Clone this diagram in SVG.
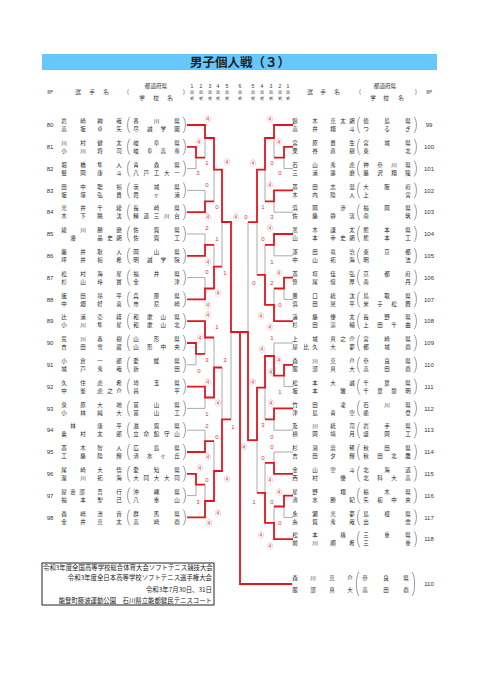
<svg xmlns="http://www.w3.org/2000/svg" width="480" height="679" viewBox="0 0 480 679">
<style>
text{font-family:"Noto Sans CJK JP","Noto Sans",sans-serif}
.n{font-size:5.5px;fill:#222;text-anchor:middle}
.no{font-family:"Liberation Sans",sans-serif;font-size:6px;fill:#333;text-anchor:middle}
.h{font-size:5.6px;fill:#333;text-anchor:middle}
.rd{font-family:"Liberation Sans",sans-serif;font-size:5px;fill:#333;text-anchor:middle}
.s{font-size:6px;fill:#e8303a;text-anchor:middle}
.sd{font-family:"Liberation Sans",sans-serif;font-size:6px;fill:#e8303a;text-anchor:middle}
.f{font-size:6.4px;fill:#222}
.r{fill:none;stroke:#e4141e;stroke-width:1.8}
.g{fill:none;stroke:#aaa;stroke-width:1}
.p{fill:none;stroke:#555;stroke-width:0.6}
</style>
<defs>
<path id="lp" class="p" d="M2,-8 C-1.2,-5 -1.2,5 2,8"/>
<path id="rp" class="p" d="M-2,-8 C1.2,-5 1.2,5 -2,8"/>
</defs>
<rect x="42" y="54" width="395" height="16" fill="#66c7fb"/>
<text x="240" y="67.3" text-anchor="middle" font-size="12.5" font-weight="bold" fill="#222">男子個人戦（３）</text>
<g id="header">
<text class="h" x="50" y="94">№</text>
<text class="h" x="78 92 106" y="94">選手名</text>
<text class="h" x="128" y="94">(</text>
<text class="h" x="156" y="88">都道府県</text>
<text class="h" x="142 156 170" y="99.5">学校名</text>
<text class="h" x="184" y="94">)</text>
<text class="rd" x="192" y="88">1</text><text class="rd" x="201" y="88">2</text><text class="rd" x="210" y="88">3</text><text class="rd" x="218" y="88">4</text><text class="rd" x="227" y="88">5</text><text class="rd" x="240" y="88">6</text><text class="rd" x="253" y="88">5</text><text class="rd" x="262" y="88">4</text><text class="rd" x="271" y="88">3</text><text class="rd" x="280" y="88">2</text><text class="rd" x="288" y="88">1</text>
<g font-size="3.6" fill="#444" text-anchor="middle">
<text x="192 201 210 218 227 240 253 262 271 280 288" y="94">回回回回回回回回回回回</text>
<text x="192 201 210 218 227 240 253 262 271 280 288" y="99.5">戦戦戦戦戦戦戦戦戦戦戦</text>
</g>
<text class="h" x="310 323 337" y="94">選手名</text>
<text class="h" x="360" y="94">(</text>
<text class="h" x="385" y="88">都道府県</text>
<text class="h" x="373 386 401" y="99.5">学校名</text>
<text class="h" x="416" y="94">)</text>
<text class="h" x="429" y="94">№</text>
</g>
<g id="connectors">
<path class="g" d="M187,168.6H196V157.7 M205,138V157.7 M187,190.4H205V201.3 M214,169.6V201.3 M187,234H205V244.9 M187,277.6H205V288.5 M214,244.9V266.7 M222,222V266.7 M187,364.8H196V353.9 M205,337.5V353.9 M187,408.4H205V397.5 M214,337.5V367.5 M187,430.2H205V441.1 M187,495.6H196V484.7 M205,484.7V501 M214,441.1V471 M222,367.5V419.3 M231,332V419.3"/>
<path class="g" d="M293,168.6H284V157.7 M274,138V157.7 M293,212.2H274V201.3 M265,169.6V201.3 M293,255.8H274V244.9 M293,299.4H284V288.5 M274,288.5V304.8 M265,244.9V274.9 M257,222.2V274.9 M293,343H274V356 M293,386.6H284V375.7 M293,430.2H274V419.3 M265,387.6V419.3 M293,452H274V462.9 M293,517.4H284V506.5 M274,506.5V522.8 M265,462.9V492.9 M257,440.2V492.9 M248,222.2V332"/>
<path class="r" d="M187,125H205V138H214V169.6H222V222H231V332H240 M187,146.8H196V157.7H205 M187,212.2H205V201.3H214 M187,255.8H205V244.9H214 M187,299.4H205V288.5H214V266.7H222 M187,321.2H205V337.5H214 M187,343H196V353.9H205 M187,386.6H205V397.5H214V367.5H222 M187,452H205V441.1H214 M187,473.8H196V484.7H205 M187,517.4H205V501H214V471H222V419.3H231"/>
<path class="r" d="M293,364.8H284V375.7H274V356H265V387.6H257V440.2H248V332H240V584H292 M293,125H274V138H265V169.6H257V222.2H248 M293,146.8H284V157.7H274 M293,190.4H274V201.3H265 M293,234H274V244.9H265 M293,277.6H284V288.5H274 M293,321.2H274V304.8H265V274.9H257 M293,408.4H274V419.3H265 M293,473.8H274V462.9H265 M293,495.6H284V506.5H274 M293,539.2H274V522.8H265V492.9H257"/>
</g>
<g id="scores">
<text class="s" x="208" y="121">④</text><text class="s" x="199" y="144">④</text><text class="sd" x="207" y="165">1</text><text class="sd" x="198" y="175">3</text><text class="s" x="227" y="164">④</text><text class="sd" x="207" y="187">0</text><text class="sd" x="217" y="209">0</text><text class="s" x="208" y="219">④</text><text class="sd" x="207" y="230">2</text><text class="sd" x="217" y="241">1</text><text class="s" x="208" y="264">④</text><text class="sd" x="225" y="275">1</text><text class="sd" x="207" y="274">0</text><text class="s" x="218" y="295">④</text><text class="s" x="208" y="307">④</text><text class="s" x="208" y="317">④</text><text class="sd" x="217" y="329">1</text><text class="s" x="200" y="340">④</text><text class="sd" x="207" y="362">3</text><text class="sd" x="225" y="362">3</text><text class="sd" x="199" y="373">0</text><text class="s" x="208" y="384">④</text><text class="s" x="218" y="405">④</text><text class="sd" x="207" y="416">1</text><text class="sd" x="207" y="428">2</text><text class="sd" x="233" y="429">1</text><text class="sd" x="217" y="439">0</text><text class="s" x="208" y="459">④</text><text class="s" x="200" y="470">④</text><text class="sd" x="207" y="482">0</text><text class="s" x="227" y="481">④</text><text class="sd" x="198" y="504">3</text><text class="s" x="218" y="515">④</text><text class="s" x="209" y="525">④</text><text class="s" x="236" y="219">④</text>
<text class="s" x="270" y="121">④</text><text class="s" x="279" y="144">④</text><text class="s" x="253" y="165">④</text><text class="sd" x="272" y="165">0</text><text class="sd" x="280" y="175">0</text><text class="s" x="270" y="187">④</text><text class="sd" x="263" y="209">1</text><text class="sd" x="272" y="219">3</text><text class="sd" x="246" y="219">0</text><text class="s" x="270" y="230">④</text><text class="sd" x="263" y="241">0</text><text class="sd" x="272" y="264">1</text><text class="s" x="279" y="275">④</text><text class="sd" x="272" y="285">2</text><text class="sd" x="254" y="285">0</text><text class="sd" x="280" y="307">0</text><text class="s" x="261" y="318">④</text><text class="s" x="270" y="329">④</text><text class="sd" x="272" y="340">1</text><text class="s" x="262" y="351">④</text><text class="s" x="279" y="362">④</text><text class="s" x="253" y="384">④</text><text class="s" x="271" y="374">④</text><text class="sd" x="280" y="394">1</text><text class="s" x="271" y="405">④</text><text class="sd" x="263" y="427">3</text><text class="sd" x="272" y="439">0</text><text class="sd" x="272" y="449">0</text><text class="s" x="244" y="449">④</text><text class="sd" x="263" y="460">0</text><text class="s" x="270" y="482">④</text><text class="s" x="279" y="494">④</text><text class="sd" x="272" y="504">0</text><text class="sd" x="254" y="504">1</text><text class="sd" x="280" y="525">0</text><text class="s" x="261" y="537">④</text><text class="s" x="270" y="548">④</text>
</g>
<g id="p80"><text class="no" x="50" y="127.2">80</text><text class="n" x="64 83 100 119" y="123.1">岩崎絢哉</text><text class="n" x="64 83 100 119" y="131.2">高坂卓矢</text><use href="#lp" x="128" y="125"/><text class="n" x="136 156.5 177" y="123.1">香川県</text><text class="n" x="136 149.7 163.3 177" y="131.2">尽誠学園</text><use href="#rp" x="185" y="125"/></g>
<g id="p81"><text class="no" x="50" y="149">81</text><text class="n" x="64 83 100 119" y="144.9">川村健太</text><text class="n" x="64 83 100 119" y="153">小川将司</text><use href="#lp" x="128" y="146.8"/><text class="n" x="136 156.5 177" y="144.9">岐阜県</text><text class="n" x="136 149.7 163.3 177" y="153">岐阜高専</text><use href="#rp" x="185" y="146.8"/></g>
<g id="p82"><text class="no" x="50" y="170.8">82</text><text class="n" x="64 83 100 119" y="166.7">堀橋隼人</text><text class="n" x="64 83 100 119" y="174.8">鷲岡康斗</text><use href="#lp" x="128" y="168.6"/><text class="n" x="136 156.5 177" y="166.7">青森県</text><text class="n" x="136 146.25 156.5 166.75 177" y="174.8">八戸工大一</text><use href="#rp" x="185" y="168.6"/></g>
<g id="p83"><text class="no" x="50" y="192.6">83</text><text class="n" x="64 83 100 119" y="188.5">田中聡裕</text><text class="n" x="64 83 100 119" y="196.6">坂塚弘貴</text><use href="#lp" x="128" y="190.4"/><text class="n" x="136 156.5 177" y="188.5">茨城県</text><text class="n" x="136 156.5 177" y="196.6">霞ヶ浦</text><use href="#rp" x="185" y="190.4"/></g>
<g id="p84"><text class="no" x="50" y="214.4">84</text><text class="n" x="64 83 100 119" y="210.3">光井千綾</text><text class="n" x="64 83 100 119" y="218.4">木下眺汰</text><use href="#lp" x="128" y="212.2"/><text class="n" x="136 156.5 177" y="210.3">長崎県</text><text class="n" x="136 146.25 156.5 166.75 177" y="218.4">精道三川台</text><use href="#rp" x="185" y="212.2"/></g>
<g id="p85"><text class="no" x="50" y="236.2">85</text><text class="n" x="64 83 100 119" y="232.1">綾川勝磨</text><text class="n" x="73 100 110 119" y="240.2">湊晶史朗</text><use href="#lp" x="128" y="234"/><text class="n" x="136 156.5 177" y="232.1">佐賀県</text><text class="n" x="136 156.5 177" y="240.2">佐賀工</text><use href="#rp" x="185" y="234"/></g>
<g id="p86"><text class="no" x="50" y="258">86</text><text class="n" x="64 83 100 119" y="253.9">藤井耿人</text><text class="n" x="64 83 100 119" y="262">坪井裕希</text><use href="#lp" x="128" y="255.8"/><text class="n" x="136 156.5 177" y="253.9">岡山県</text><text class="n" x="136 149.7 163.3 177" y="262">明誠学院</text><use href="#rp" x="185" y="255.8"/></g>
<g id="p87"><text class="no" x="50" y="279.8">87</text><text class="n" x="64 83 100 119" y="275.7">松村海星</text><text class="n" x="64 83 100 119" y="283.8">杉山玲實</text><use href="#lp" x="128" y="277.6"/><text class="n" x="136 156.5 177" y="275.7">福井県</text><text class="n" x="136 177" y="283.8">金津</text><use href="#rp" x="185" y="277.6"/></g>
<g id="p88"><text class="no" x="50" y="301.6">88</text><text class="n" x="64 83 100 119" y="297.5">飯田昂平</text><text class="n" x="64 83 100 119" y="305.6">中畑好喜</text><use href="#lp" x="128" y="299.4"/><text class="n" x="136 156.5 177" y="297.5">兵庫県</text><text class="n" x="136 156.5 177" y="305.6">市尼崎</text><use href="#rp" x="185" y="299.4"/></g>
<g id="p89"><text class="no" x="50" y="323.4">89</text><text class="n" x="64 83 100 119" y="319.3">辻浦壱経</text><text class="n" x="64 83 100 119" y="327.4">小川隼星</text><use href="#lp" x="128" y="321.2"/><text class="n" x="136 149.7 163.3 177" y="319.3">和歌山県</text><text class="n" x="136 149.7 163.3 177" y="327.4">和歌山北</text><use href="#rp" x="185" y="321.2"/></g>
<g id="p90"><text class="no" x="50" y="345.2">90</text><text class="n" x="64 83 100 119" y="341.1">荒川春樹</text><text class="n" x="64 83 100 119" y="349.2">吉田雪蔵</text><use href="#lp" x="128" y="343"/><text class="n" x="136 156.5 177" y="341.1">山形県</text><text class="n" x="136 149.7 163.3 177" y="349.2">山形中央</text><use href="#rp" x="185" y="343"/></g>
<g id="p91"><text class="no" x="50" y="367">91</text><text class="n" x="64 83 100 119" y="362.9">小倉一郎</text><text class="n" x="64 83 100 119" y="371">城戸秀哉</text><use href="#lp" x="128" y="364.8"/><text class="n" x="136 156.5 177" y="362.9">愛媛県</text><text class="n" x="136 177" y="371">新田</text><use href="#rp" x="185" y="364.8"/></g>
<g id="p92"><text class="no" x="50" y="388.8">92</text><text class="n" x="64 83 100 119" y="384.7">久住虎希</text><text class="n" x="64 83 100 110 119" y="392.8">中釜虎之介</text><use href="#lp" x="128" y="386.6"/><text class="n" x="136 156.5 177" y="384.7">埼玉県</text><text class="n" x="136 177" y="392.8">昌平</text><use href="#rp" x="185" y="386.6"/></g>
<g id="p93"><text class="no" x="50" y="410.6">93</text><text class="n" x="64 83 100 119" y="406.5">泉原大地</text><text class="n" x="64 83 100 119" y="414.6">小林純大</text><use href="#lp" x="128" y="408.4"/><text class="n" x="136 156.5 177" y="406.5">富山県</text><text class="n" x="136 156.5 177" y="414.6">富山工</text><use href="#rp" x="185" y="408.4"/></g>
<g id="p94"><text class="no" x="50" y="432.4">94</text><text class="n" x="73 100 119" y="428.3">林康平</text><text class="n" x="64 83 100 119" y="436.4">奥村太郎</text><use href="#lp" x="128" y="430.2"/><text class="n" x="136 156.5 177" y="428.3">滋賀県</text><text class="n" x="136 146.25 156.5 166.75 177" y="436.4">立命館守山</text><use href="#rp" x="185" y="430.2"/></g>
<g id="p95"><text class="no" x="50" y="454.2">95</text><text class="n" x="64 83 100 119" y="450.1">髙木智人</text><text class="n" x="64 83 100 119" y="458.2">工藤陸輝</text><use href="#lp" x="128" y="452"/><text class="n" x="136 156.5 177" y="450.1">広島県</text><text class="n" x="136 149.7 163.3 177" y="458.2">清水ヶ丘</text><use href="#rp" x="185" y="452"/></g>
<g id="p96"><text class="no" x="50" y="476">96</text><text class="n" x="64 83 100 119" y="471.9">尾崎大悟</text><text class="n" x="64 83 100 119" y="480">瀧川拓海</text><use href="#lp" x="128" y="473.8"/><text class="n" x="136 156.5 177" y="471.9">愛知県</text><text class="n" x="136 146.25 156.5 166.75 177" y="480">大同大大同</text><use href="#rp" x="185" y="473.8"/></g>
<g id="p97"><text class="no" x="50" y="497.8">97</text><text class="n" x="64 73 82 100 119" y="493.7">屋嘉部吾行</text><text class="n" x="64 83 100 119" y="501.8">福本聖己</text><use href="#lp" x="128" y="495.6"/><text class="n" x="136 156.5 177" y="493.7">沖縄県</text><text class="n" x="136 156.5 177" y="501.8">八重山</text><use href="#rp" x="185" y="495.6"/></g>
<g id="p98"><text class="no" x="50" y="519.6">98</text><text class="n" x="64 83 100 119" y="515.5">森崎洸音</text><text class="n" x="64 83 100 119" y="523.6">金井亮太</text><use href="#lp" x="128" y="517.4"/><text class="n" x="136 156.5 177" y="515.5">群馬県</text><text class="n" x="136 156.5 177" y="523.6">高崎商</text><use href="#rp" x="185" y="517.4"/></g>
<g id="p99"><text class="n" x="295 315 333 343 352" y="123.1">鈴木亮太朗</text><text class="n" x="295 315 333 352" y="131.2">高井翔斗</text><use href="#lp" x="358" y="125"/><text class="n" x="366 387 408" y="123.1">徳島県</text><text class="n" x="366 387 408" y="131.2">つるぎ</text><use href="#rp" x="416" y="125"/><text class="no" x="429" y="127.2">99</text></g>
<g id="p100"><text class="n" x="295 315 333 352" y="144.9">宮原貴生</text><text class="n" x="295 315 333 352" y="153">栗谷直樹</text><use href="#lp" x="358" y="146.8"/><text class="n" x="366 387 408" y="144.9">宮城県</text><text class="n" x="366 408" y="153">東北</text><use href="#rp" x="416" y="146.8"/><text class="no" x="429" y="149">100</text></g>
<g id="p101"><text class="n" x="295 315 333 352" y="166.7">石山秀虎</text><text class="n" x="295 315 333 352" y="174.8">三浦蓮磨</text><use href="#lp" x="358" y="168.6"/><text class="n" x="366 380 394 408" y="166.7">神奈川県</text><text class="n" x="366 380 394 408" y="174.8">藤沢翔陵</text><use href="#rp" x="416" y="168.6"/><text class="no" x="429" y="170.8">101</text></g>
<g id="p102"><text class="n" x="295 315 333 352" y="188.5">髙田志温</text><text class="n" x="295 315 333 352" y="196.6">木内陸人</text><use href="#lp" x="358" y="190.4"/><text class="n" x="366 387 408" y="188.5">大阪府</text><text class="n" x="366 408" y="196.6">上宮</text><use href="#rp" x="416" y="190.4"/><text class="no" x="429" y="192.6">102</text></g>
<g id="p103"><text class="n" x="295 315 343" y="210.3">浜岡渉</text><text class="n" x="295 315 333 352" y="218.4">佐藤静流</text><use href="#lp" x="358" y="212.2"/><text class="n" x="366 387 408" y="210.3">福岡県</text><text class="n" x="366 408" y="218.4">南筑</text><use href="#rp" x="416" y="212.2"/><text class="no" x="429" y="214.4">103</text></g>
<g id="p104"><text class="n" x="295 315 333 352" y="232.1">黒木謙太</text><text class="n" x="295 315 333 343 352" y="240.2">山本幸史朗</text><use href="#lp" x="358" y="234"/><text class="n" x="366 387 408" y="232.1">熊本県</text><text class="n" x="366 387 408" y="240.2">熊本工</text><use href="#rp" x="416" y="234"/><text class="no" x="429" y="236.2">104</text></g>
<g id="p105"><text class="n" x="295 315 333 352" y="253.9">澤田竜治</text><text class="n" x="295 315 333 352" y="262">中山拓海</text><use href="#lp" x="358" y="255.8"/><text class="n" x="366 387 408" y="253.9">東京都</text><text class="n" x="366 408" y="262">明法</text><use href="#rp" x="416" y="255.8"/><text class="no" x="429" y="258">105</text></g>
<g id="p106"><text class="n" x="295 315 333 352" y="275.7">髙垣佳弘</text><text class="n" x="295 315 333 352" y="283.8">笹尾偉厚</text><use href="#lp" x="358" y="277.6"/><text class="n" x="366 387 408" y="275.7">京都府</text><text class="n" x="366 408" y="283.8">南丹</text><use href="#rp" x="416" y="277.6"/><text class="no" x="429" y="279.8">106</text></g>
<g id="p107"><text class="n" x="295 315 333 352" y="297.5">豊口統汰</text><text class="n" x="295 315 333 352" y="305.6">浜田晃平</text><use href="#lp" x="358" y="299.4"/><text class="n" x="366 387 408" y="297.5">鳥取県</text><text class="n" x="366 380 394 408" y="305.6">米子松蔭</text><use href="#rp" x="416" y="299.4"/><text class="no" x="429" y="301.6">107</text></g>
<g id="p108"><text class="n" x="295 315 333 352" y="319.3">遠藤優太</text><text class="n" x="295 315 333 352" y="327.4">杉田涼輔</text><use href="#lp" x="358" y="321.2"/><text class="n" x="366 387 408" y="319.3">長野県</text><text class="n" x="366 380 394 408" y="327.4">上田千曲</text><use href="#rp" x="416" y="321.2"/><text class="no" x="429" y="323.4">108</text></g>
<g id="p109"><text class="n" x="295 315 333 343 352" y="341.1">上城真之介</text><text class="n" x="295 306 315 333 352" y="349.2">屋比久大夢</text><use href="#lp" x="358" y="343"/><text class="n" x="366 387 408" y="341.1">宮崎県</text><text class="n" x="366 387 408" y="349.2">都城商</text><use href="#rp" x="416" y="343"/><text class="no" x="429" y="345.2">109</text></g>
<g id="p110"><text class="n" x="295 315 333 352" y="362.9">森川亮介</text><text class="n" x="295 315 333 352" y="371">服部真大</text><use href="#lp" x="358" y="364.8"/><text class="n" x="366 387 408" y="362.9">奈良県</text><text class="n" x="366 387 408" y="371">高田商</text><use href="#rp" x="416" y="364.8"/><text class="no" x="429" y="367">110</text></g>
<g id="p111"><text class="n" x="295 315 333 352" y="384.7">松本大誠</text><text class="n" x="295 315 343" y="392.8">坂本駿</text><use href="#lp" x="358" y="386.6"/><text class="n" x="366 387 408" y="384.7">千葉県</text><text class="n" x="366 380 394 408" y="392.8">千葉黎明</text><use href="#rp" x="416" y="386.6"/><text class="no" x="429" y="388.8">111</text></g>
<g id="p112"><text class="n" x="295 315 343" y="406.5">竹田凌</text><text class="n" x="295 315 333 352" y="414.6">津島青空</text><use href="#lp" x="358" y="408.4"/><text class="n" x="366 387 408" y="406.5">石川県</text><text class="n" x="366 408" y="414.6">能登</text><use href="#rp" x="416" y="408.4"/><text class="no" x="429" y="410.6">112</text></g>
<g id="p113"><text class="n" x="295 315 333 352" y="428.3">及川統司</text><text class="n" x="295 315 333 352" y="436.4">槙岡靖月</text><use href="#lp" x="358" y="430.2"/><text class="n" x="366 387 408" y="428.3">岩手県</text><text class="n" x="366 387 408" y="436.4">盛岡工</text><use href="#rp" x="416" y="430.2"/><text class="no" x="429" y="432.4">113</text></g>
<g id="p114"><text class="n" x="295 315 333 352" y="450.1">杉渕忠稀</text><text class="n" x="295 315 333 352" y="458.2">吉田夕輝</text><use href="#lp" x="358" y="452"/><text class="n" x="366 387 408" y="450.1">秋田県</text><text class="n" x="366 380 394 408" y="458.2">秋田北鷹</text><use href="#rp" x="416" y="452"/><text class="no" x="429" y="454.2">114</text></g>
<g id="p115"><text class="n" x="295 315 333 352" y="471.9">金山空斗</text><text class="n" x="295 315 343" y="480">西村優</text><use href="#lp" x="358" y="473.8"/><text class="n" x="366 387 408" y="471.9">北海道</text><text class="n" x="366 380 394 408" y="480">北科大高</text><use href="#rp" x="416" y="473.8"/><text class="no" x="429" y="476">115</text></g>
<g id="p116"><text class="n" x="295 315 343" y="493.7">星野翔</text><text class="n" x="295 315 333 352" y="501.8">清水勝紀</text><use href="#lp" x="358" y="495.6"/><text class="n" x="366 387 408" y="493.7">栃木県</text><text class="n" x="366 380 394 408" y="501.8">矢板中央</text><use href="#rp" x="416" y="495.6"/><text class="no" x="429" y="497.8">116</text></g>
<g id="p117"><text class="n" x="295 315 333 352" y="515.5">永瀬光夢</text><text class="n" x="295 315 333 352" y="523.6">糸賀秀哉</text><use href="#lp" x="358" y="517.4"/><text class="n" x="366 387 408" y="515.5">島根県</text><text class="n" x="366 408" y="523.6">出雲</text><use href="#rp" x="416" y="517.4"/><text class="no" x="429" y="519.6">117</text></g>
<g id="p118"><text class="n" x="295 315 343" y="537.3">松本椿</text><text class="n" x="295 315 333 352" y="545.4">前川順希</text><use href="#lp" x="358" y="539.2"/><text class="n" x="366 387 408" y="537.3">三重県</text><text class="n" x="366 408" y="545.4">三重</text><use href="#rp" x="416" y="539.2"/><text class="no" x="429" y="541.4">118</text></g>
<g id="champion"><text class="n" x="295 313 332 350" y="580">森川亮介</text><text class="n" x="295 313 332 350" y="591.5">服部真大</text><path class="p" d="M359,572 C355.5,576 355.5,592 359,596"/><text class="n" x="365 386 406" y="580">奈良県</text><text class="n" x="365 386 406" y="591.5">高田商</text><path class="p" d="M412,572 C415.5,576 415.5,592 412,596"/><text class="no" x="429" y="586.2">110</text></g>
<g id="footer">
<rect x="42" y="563" width="172" height="42" fill="#fff" stroke="#222" stroke-width="1"/>
<text class="f" x="43" y="569.5">令和3年度全国高等学校総合体育大会ソフトテニス競技大会</text>
<text class="f" x="212" y="579.5" text-anchor="end">令和3年度全日本高等学校ソフトテニス選手権大会</text>
<text class="f" x="212" y="591.5" text-anchor="end">令和3年7月30日、31日</text>
<text class="f" x="212" y="602.5" text-anchor="end">能登町藤波運動公園　石川県立能都健民テニスコート</text>
</g>
</svg>
